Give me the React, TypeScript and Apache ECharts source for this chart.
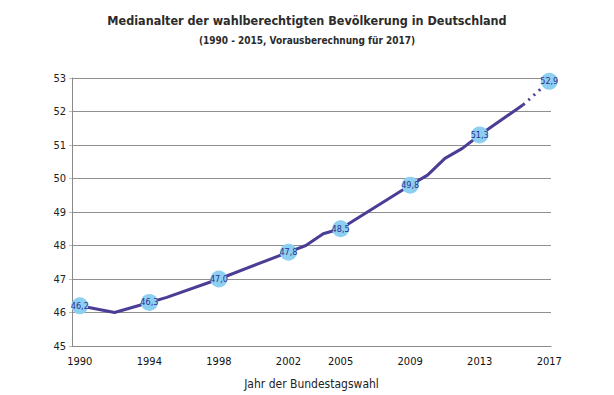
import React, { useEffect, useRef } from "react";
import * as echarts from "echarts";

const titleText = "Medianalter der wahlberechtigten Bevölkerung in Deutschland";
const subtitleText = "(1990 - 2015, Vorausberechnung für 2017)";
const xAxisName = "Jahr der Bundestagswahl";

const electionYears = [1990, 1994, 1998, 2002, 2005, 2009, 2013, 2017];
const electionValues = [46.2, 46.3, 47.0, 47.8, 48.5, 49.8, 51.3, 52.9];

const lineYears = [1990, 1992, 1994, 1995, 1998, 2002, 2003, 2004, 2005, 2009, 2010, 2011, 2012, 2013, 2015.5];
const lineValues = [46.2, 46.0, 46.3, 46.45, 47.0, 47.8, 48.0, 48.35, 48.5, 49.8, 50.1, 50.6, 50.9, 51.3, 52.2];

const projYears = [2015.5, 2017];
const projValues = [52.2, 52.9];

const FONT = "'DejaVu Sans Condensed', 'Liberation Sans Narrow', sans-serif";

export default function App() {
  const ref = useRef<HTMLDivElement>(null);
  useEffect(() => {
    if (!ref.current) return;
    const chart = echarts.init(ref.current, null, { renderer: "svg" });
    const lineColor = "#4a3d96";
    chart.setOption({
      animation: false,
      backgroundColor: "#ffffff",
      textStyle: { fontFamily: FONT },
      title: [
        {
          text: titleText,
          left: "center",
          top: 9,
          textStyle: { fontFamily: FONT, fontSize: 12.5, fontWeight: "bold", color: "#2b2b2b" },
        },
        {
          text: subtitleText,
          left: "center",
          top: 30,
          textStyle: { fontFamily: FONT, fontSize: 10, fontWeight: "bold", color: "#2b2b2b" },
        },
      ],
      grid: { left: 72, right: 63, top: 78, bottom: 45, containLabel: false },
      xAxis: {
        type: "value",
        min: 1989.55,
        max: 2017.1,
        name: xAxisName,
        nameLocation: "middle",
        nameGap: 32,
        nameTextStyle: { fontFamily: FONT, fontSize: 12, color: "#222" },
        axisLine: { show: true, lineStyle: { color: "#8a8a8a", width: 1 } },
        axisTick: { show: false },
        splitLine: { show: false },
        axisLabel: {
          customValues: electionYears,
          formatter: (v: number) => String(Math.round(v)),
          fontFamily: FONT,
          fontSize: 11,
          color: "#111",
          margin: 10,
        },
      },
      yAxis: {
        type: "value",
        min: 45,
        max: 53,
        interval: 1,
        axisLine: { show: true, lineStyle: { color: "#8a8a8a", width: 1 } },
        axisTick: { show: true, length: 3, lineStyle: { color: "#bbbbbb" } },
        splitLine: { show: true, lineStyle: { color: "#8f8f8f", width: 1 } },
        axisLabel: { fontFamily: FONT, fontSize: 11, color: "#222", margin: 6 },
      },
      series: [
        {
          type: "line",
          data: lineYears.map((y, i) => [y, lineValues[i]]),
          showSymbol: false,
          symbol: "none",
          lineStyle: { color: lineColor, width: 3 },
          z: 2,
        },
        {
          type: "line",
          data: projYears.map((y, i) => [y, projValues[i]]),
          showSymbol: false,
          symbol: "none",
          lineStyle: { color: lineColor, width: 3, type: [2, 5] },
          z: 2,
        },
        {
          type: "scatter",
          data: electionYears.map((y, i) => [y, electionValues[i]]),
          symbolSize: 17,
          itemStyle: { color: "#8dcff1", opacity: 1 },
          label: {
            show: true,
            position: "inside",
            formatter: (p: any) => p.value[1].toFixed(1).replace(".", ","),
            fontFamily: FONT,
            fontSize: 9,
            color: "#2e2e8c",
          },
          z: 3,
        },
      ],
    });
    return () => chart.dispose();
  }, []);
  return <div ref={ref} style={{ width: 614, height: 395, position: "absolute", left: 0, top: 0 }} />;
}
